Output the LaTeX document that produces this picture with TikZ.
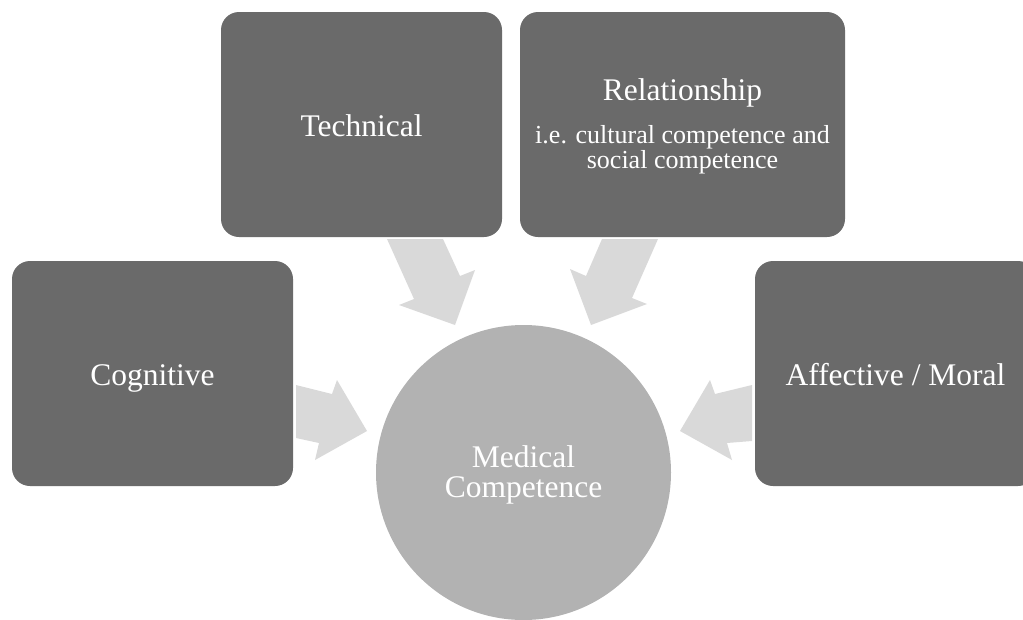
\documentclass[tikz,border=0pt]{standalone}
\usepackage{fontspec}
\setmainfont{Liberation Serif}
\definecolor{boxgray}{HTML}{6A6A6A}
\definecolor{hubgray}{HTML}{B2B2B2}
\definecolor{arrowgray}{HTML}{D9D9D9}
\begin{document}
\begin{tikzpicture}[x=1pt,y=-1pt,
  box/.style={fill=boxgray, rounded corners=18pt, inner sep=0pt,
              minimum width=281pt, minimum height=225pt},
  hub/.style={circle, fill=hubgray, inner sep=0pt, minimum size=295pt},
  flow/.style={fill=arrowgray},
  big/.style={text=white, font=\fontsize{31.5}{36}\selectfont, anchor=base, inner sep=0pt},
  small/.style={text=white, font=\fontsize{26}{30}\selectfont, anchor=base, inner sep=0pt}]
\useasboundingbox (0,0) rectangle (1023,619);
\clip (0,0) rectangle (1023,619);

% the four competence boxes
\node[box] (tech) at (361.5,124.5) {};
\node[box, minimum width=325pt] (rel) at (682.5,124.5) {};
\node[box] (cog) at (152.5,373.5) {};
\node[box] (aff) at (895.5,373.5) {};

% central circle
\node[hub] (med) at (523.5,472.5) {};

% block arrows pointing into the circle
\fill[flow] (387,239) -- (443,239) -- (460,276) -- (475,270) -- (455,325)
            -- (399,305) -- (414,299) -- cycle;
\fill[flow] (658,239) -- (602,239) -- (586,276) -- (570,269) -- (591,325)
            -- (647,304) -- (632,298) -- cycle;
\fill[flow] (296,385) -- (332,394) -- (337,380) -- (367,431) -- (315,460)
            -- (319,443) -- (296,438) -- cycle;
\fill[flow] (752,385) -- (715,394) -- (710,380) -- (680,431) -- (732,460)
            -- (727,443) -- (752,441) -- cycle;

% labels
\node[big] (techlbl) at (361.5,136) {Technical};
\node[big] (rellbl) at (682.5,100) {Relationship};
\node[small] (relsub1) at (682.5,143) {i.e. cultural competence and};
\node[small] (relsub2) at (682.5,168.5) {social competence};
\node[big] (coglbl) at (152.5,385) {Cognitive};
\node[big] (afflbl) at (895.5,385) {Affective / Moral};
\node[big] (medlbl1) at (523.5,467) {Medical};
\node[big] (medlbl2) at (523.5,497) {Competence};
\end{tikzpicture}
\end{document}
